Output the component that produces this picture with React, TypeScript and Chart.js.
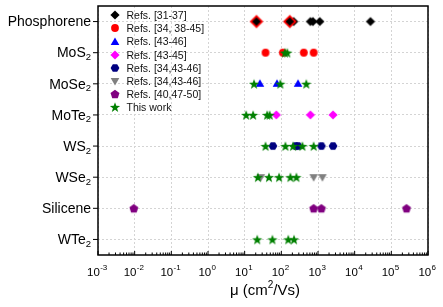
import { useEffect, useRef } from 'react';
import { Chart, registerables } from 'chart.js';

Chart.register(...registerables);

// ---------- data ----------
const categories = ['Phosphorene', 'MoS_2', 'MoSe_2', 'MoTe_2', 'WS_2', 'WSe_2', 'Silicene', 'WTe_2'];
const xTickExponents = [-3, -2, -1, 0, 1, 2, 3, 4, 5, 6];
const xTitleParts = ['μ (cm', '2', '/Vs)'];

type Pt = [string, number];
const refs31_37: Pt[] = [['Phosphorene', 217], ['Phosphorene', 620], ['Phosphorene', 730], ['Phosphorene', 1120], ['Phosphorene', 27000]];
const refs31_37Outlined: Pt[] = [['Phosphorene', 21], ['Phosphorene', 170]];
const refs34_38_45: Pt[] = [['MoS_2', 37], ['MoS_2', 110], ['MoS_2', 410], ['MoS_2', 760]];
const refs43_46: Pt[] = [['MoSe_2', 26], ['MoSe_2', 76], ['MoSe_2', 285]];
const refs43_45: Pt[] = [['MoTe_2', 73], ['MoTe_2', 620], ['MoTe_2', 2570]];
const refs34_43_46a: Pt[] = [['WS_2', 59], ['WS_2', 246], ['WS_2', 285], ['WS_2', 1240], ['WS_2', 2570]];
const refs34_43_46b: Pt[] = [['WSe_2', 27.5], ['WSe_2', 760], ['WSe_2', 1320]];
const refs40_47_50: Pt[] = [['Silicene', 0.0095], ['Silicene', 760], ['Silicene', 1240], ['Silicene', 260000]];
const thisWork: Pt[] = [
  ['MoS_2', 125], ['MoS_2', 145],
  ['MoSe_2', 18], ['MoSe_2', 94], ['MoSe_2', 480],
  ['MoTe_2', 11], ['MoTe_2', 17], ['MoTe_2', 41], ['MoTe_2', 48],
  ['WS_2', 37], ['WS_2', 129], ['WS_2', 209], ['WS_2', 375], ['WS_2', 760],
  ['WSe_2', 23], ['WSe_2', 46], ['WSe_2', 87], ['WSe_2', 177], ['WSe_2', 258],
  ['WTe_2', 22], ['WTe_2', 57], ['WTe_2', 155], ['WTe_2', 222],
];

const FONT = "'Liberation Sans', Arial, Helvetica, sans-serif";

type Shape = 'diamond' | 'diamondOutlined' | 'circle' | 'triUp' | 'triDown' | 'hexagon' | 'pentagon' | 'star';

function poly(ctx: CanvasRenderingContext2D, pts: number[][]) {
  ctx.beginPath();
  pts.forEach(([x, y], i) => (i ? ctx.lineTo(x, y) : ctx.moveTo(x, y)));
  ctx.closePath();
  ctx.fill();
}

function makeMarker(shape: Shape, color: string): HTMLCanvasElement {
  const size = 16;
  const cv = document.createElement('canvas');
  cv.width = size;
  cv.height = size;
  const ctx = cv.getContext('2d')!;
  const c = size / 2;
  const regular = (n: number, r: number, rot: number) =>
    Array.from({ length: n }, (_, i) => {
      const a = rot + (i * 2 * Math.PI) / n;
      return [c + r * Math.cos(a), c + r * Math.sin(a)];
    });
  ctx.fillStyle = color;
  switch (shape) {
    case 'diamond':
      poly(ctx, regular(4, 4.6, -Math.PI / 2));
      break;
    case 'diamondOutlined':
      ctx.fillStyle = '#ff0000';
      poly(ctx, regular(4, 6.8, -Math.PI / 2));
      ctx.fillStyle = color;
      poly(ctx, regular(4, 4.3, -Math.PI / 2));
      break;
    case 'circle':
      ctx.beginPath();
      ctx.arc(c, c, 3.9, 0, Math.PI * 2);
      ctx.fill();
      break;
    case 'triUp':
      poly(ctx, regular(3, 5, -Math.PI / 2).map(([x, y]) => [x, y + 0.6]));
      break;
    case 'triDown':
      poly(ctx, regular(3, 5, Math.PI / 2).map(([x, y]) => [x, y - 0.6]));
      break;
    case 'hexagon':
      poly(ctx, regular(6, 4.4, 0));
      break;
    case 'pentagon':
      poly(ctx, regular(5, 4.7, -Math.PI / 2).map(([x, y]) => [x, y + 0.4]));
      break;
    case 'star': {
      const pts: number[][] = [];
      for (let i = 0; i < 10; i++) {
        const r = i % 2 === 0 ? 5.4 : 2.2;
        const a = -Math.PI / 2 + (i * Math.PI) / 5;
        pts.push([c + r * Math.cos(a), c + 0.6 + r * Math.sin(a)]);
      }
      poly(ctx, pts);
      break;
    }
  }
  return cv;
}

const seriesList: { label: string; data: Pt[]; shape: Shape; color: string; legend: boolean; order: number }[] = [
  { label: 'Refs. [31-37]', data: refs31_37, shape: 'diamond', color: '#000000', legend: true, order: 5 },
  { label: 'Refs. [31-37] (highlighted)', data: refs31_37Outlined, shape: 'diamondOutlined', color: '#000000', legend: false, order: 4 },
  { label: 'Refs. [34, 38-45]', data: refs34_38_45, shape: 'circle', color: '#ff0000', legend: true, order: 3 },
  { label: 'Refs. [43-46]', data: refs43_46, shape: 'triUp', color: '#0000ff', legend: true, order: 3 },
  { label: 'Refs. [43-45]', data: refs43_45, shape: 'diamond', color: '#ff00ff', legend: true, order: 3 },
  { label: 'Refs. [34,43-46]', data: refs34_43_46a, shape: 'hexagon', color: '#000080', legend: true, order: 3 },
  { label: 'Refs. [34,43-46]', data: refs34_43_46b, shape: 'triDown', color: '#808080', legend: true, order: 3 },
  { label: 'Refs. [40,47-50]', data: refs40_47_50, shape: 'pentagon', color: '#800080', legend: true, order: 3 },
  { label: 'This work', data: thisWork, shape: 'star', color: '#008000', legend: true, order: 1 },
];

export default function App() {
  const ref = useRef<HTMLCanvasElement>(null);

  useEffect(() => {
    const canvas = ref.current!;
    const markers = seriesList.map((s) => makeMarker(s.shape, s.color));

    const decor = {
      id: 'decor',
      afterDraw(chart: any) {
        const { ctx, chartArea: a, scales } = chart;
        const xs = scales.x;
        const ys = scales.y;
        const line = (x1: number, y1: number, x2: number, y2: number) => {
          ctx.beginPath();
          ctx.moveTo(x1, y1);
          ctx.lineTo(x2, y2);
          ctx.stroke();
        };
        ctx.save();
        ctx.strokeStyle = '#000';
        ctx.lineWidth = 1.5;
        ctx.strokeRect(a.left, a.top, a.right - a.left, a.bottom - a.top);

        // y tick marks + labels
        ctx.lineWidth = 1;
        ctx.fillStyle = '#000';
        categories.forEach((cat, i) => {
          const y = ys.getPixelForValue(i);
          line(a.left - 5, y, a.left, y);
          const [main, sub] = cat.split('_');
          const right = a.left - 7;
          ctx.textAlign = 'left';
          ctx.textBaseline = 'alphabetic';
          ctx.font = `14px ${FONT}`;
          const wMain = ctx.measureText(main).width;
          let wSub = 0;
          if (sub) {
            ctx.font = `9.5px ${FONT}`;
            wSub = ctx.measureText(sub).width;
            ctx.fillText(sub, right - wSub, y + 7.5);
          }
          ctx.font = `14px ${FONT}`;
          ctx.fillText(main, right - wSub - wMain, y + 4.8);
        });

        // x tick marks (inside) + labels
        xTickExponents.forEach((e, idx) => {
          const x = xs.getPixelForValue(Math.pow(10, e));
          line(x, a.bottom, x, a.bottom - 4);
          if (idx < xTickExponents.length - 1) {
            for (let k = 2; k <= 9; k++) {
              const xm = xs.getPixelForValue(k * Math.pow(10, e));
              line(xm, a.bottom, xm, a.bottom - 2.5);
            }
          }
          const base = '10';
          const sup = String(e).replace('-', '-');
          ctx.font = `11.5px ${FONT}`;
          const wb = ctx.measureText(base).width;
          ctx.font = `8px ${FONT}`;
          const ws = ctx.measureText(sup).width;
          const left = x - 1 - (wb + ws) / 2;
          ctx.textAlign = 'left';
          ctx.font = `11.5px ${FONT}`;
          ctx.fillText(base, left, a.bottom + 20.5);
          ctx.font = `8px ${FONT}`;
          ctx.fillText(sup, left + wb + 0.3, a.bottom + 15);
        });

        // x title
        ctx.font = `15px ${FONT}`;
        const w0 = ctx.measureText(xTitleParts[0]).width;
        const w2 = ctx.measureText(xTitleParts[2]).width;
        ctx.font = `10px ${FONT}`;
        const w1 = ctx.measureText(xTitleParts[1]).width;
        const tx = (a.left + a.right) / 2 + 2 - (w0 + w1 + w2) / 2;
        const ty = a.bottom + 39.5;
        ctx.font = `15px ${FONT}`;
        ctx.fillText(xTitleParts[0], tx, ty);
        ctx.fillText(xTitleParts[2], tx + w0 + w1, ty);
        ctx.font = `10px ${FONT}`;
        ctx.fillText(xTitleParts[1], tx + w0, ty - 6.5);

        // legend
        let row = 0;
        seriesList.forEach((s, i) => {
          if (!s.legend) return;
          const y = a.top + 9.3 + row * 13.15;
          const m = markers[i];
          ctx.drawImage(m, Math.round(a.left + 17) - m.width / 2, Math.round(y) - m.height / 2);
          ctx.font = `10.5px ${FONT}`;
          ctx.fillStyle = '#111';
          ctx.fillText(s.label, a.left + 28.5, y + 3.8);
          row++;
        });
        ctx.restore();
      },
    };

    const chart = new Chart(canvas, {
      type: 'scatter',
      data: {
        datasets: seriesList.map((s, i) => ({
          label: s.label,
          data: s.data.map(([cat, v]) => ({ x: v, y: categories.indexOf(cat) })),
          pointStyle: markers[i] as any,
          pointRadius: 4,
          order: s.order,
          backgroundColor: s.color,
          borderColor: s.color,
        })),
      },
      options: {
        animation: false,
        responsive: false,
        devicePixelRatio: 1,
        layout: { padding: { left: 0, right: 15, top: 6, bottom: 0 } },
        plugins: { legend: { display: false }, tooltip: { enabled: false } },
        scales: {
          x: {
            type: 'logarithmic',
            min: 1e-3,
            max: 1e6,
            afterBuildTicks: (s: any) => {
              s.ticks = xTickExponents.map((e) => ({ value: Math.pow(10, e) }));
            },
            afterFit: (s: any) => {
              s.height = 52;
            },
            ticks: { display: false },
            grid: { color: '#d4d4d4', lineWidth: 1, drawTicks: false },
            border: { display: false, dash: [2, 2] },
          },
          y: {
            type: 'linear',
            min: -0.5,
            max: 7.5,
            reverse: true,
            afterBuildTicks: (s: any) => {
              s.ticks = categories.map((_, i) => ({ value: i }));
            },
            afterFit: (s: any) => {
              s.width = 98;
            },
            ticks: { display: false },
            grid: { color: '#d4d4d4', lineWidth: 1, drawTicks: false },
            border: { display: false, dash: [2, 2] },
          },
        },
      } as any,
      plugins: [decor],
    });
    return () => chart.destroy();
  }, []);

  return (
    <div style={{ position: 'fixed', left: 0, top: 0, width: 443, height: 307, background: '#fff' }}>
      <canvas ref={ref} width={443} height={307} style={{ display: 'block', width: 443, height: 307 }} />
    </div>
  );
}
